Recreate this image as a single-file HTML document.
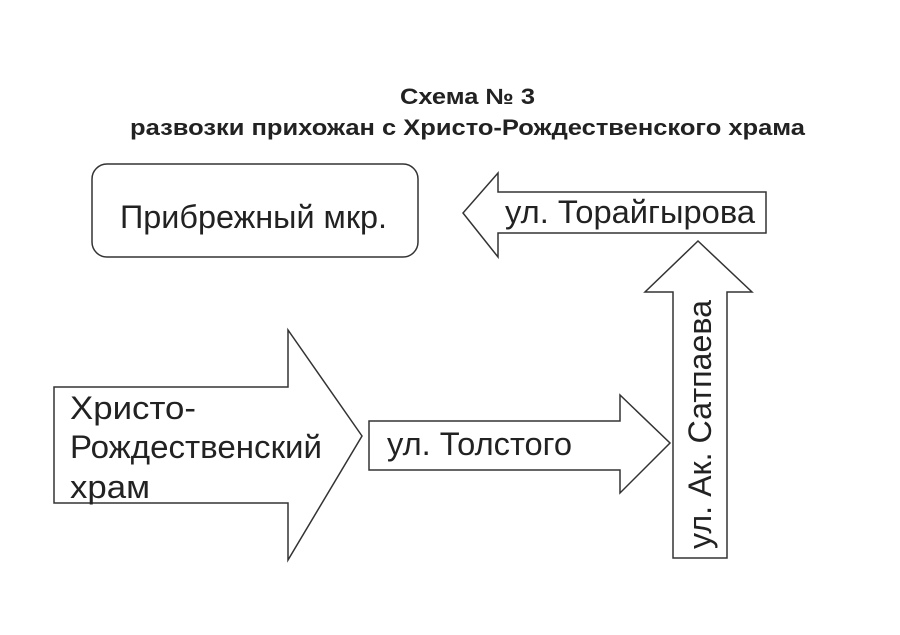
<!DOCTYPE html>
<html><head><meta charset="utf-8"><style>
body{margin:0;background:#fff;}
svg{display:block;}
text{font-family:"Liberation Sans",sans-serif;fill:#222;}
</style></head><body>
<svg width="900" height="635" viewBox="0 0 900 635">
<text x="400" y="104" font-size="22" font-weight="bold" textLength="135" lengthAdjust="spacingAndGlyphs">Схема № 3</text>
<text x="130" y="135" font-size="22" font-weight="bold" textLength="675" lengthAdjust="spacingAndGlyphs">развозки прихожан с Христо-Рождественского храма</text>
<g fill="#fff" stroke="#333" stroke-width="1.5">
<rect x="92" y="164" width="326" height="93" rx="15"/>
<polygon points="54,387 288,387 288,330 362,436 288,560 288,503 54,503"/>
<polygon points="369,421 620,421 620,395 670,443 620,493 620,470 369,470"/>
<polygon points="766,192 498,192 498,173 463,213 498,257 498,233 766,233"/>
<polygon points="673,558 673,292 645,292 698,241 752,292 727,292 727,558"/>
</g>
<text x="120" y="228" font-size="32" textLength="267" lengthAdjust="spacingAndGlyphs">Прибрежный мкр.</text>
<text x="70" y="419" font-size="32" textLength="126" lengthAdjust="spacingAndGlyphs">Христо-</text>
<text x="70" y="458" font-size="32" textLength="252" lengthAdjust="spacingAndGlyphs">Рождественский</text>
<text x="70" y="498" font-size="32" textLength="80" lengthAdjust="spacingAndGlyphs">храм</text>
<text x="387" y="455" font-size="32" textLength="185" lengthAdjust="spacingAndGlyphs">ул. Толстого</text>
<text x="505" y="223" font-size="32" textLength="250" lengthAdjust="spacingAndGlyphs">ул. Торайгырова</text>
<text transform="translate(711,549) rotate(-90)" font-size="32" textLength="249" lengthAdjust="spacingAndGlyphs">ул. Ак. Сатпаева</text>
</svg>
</body></html>
